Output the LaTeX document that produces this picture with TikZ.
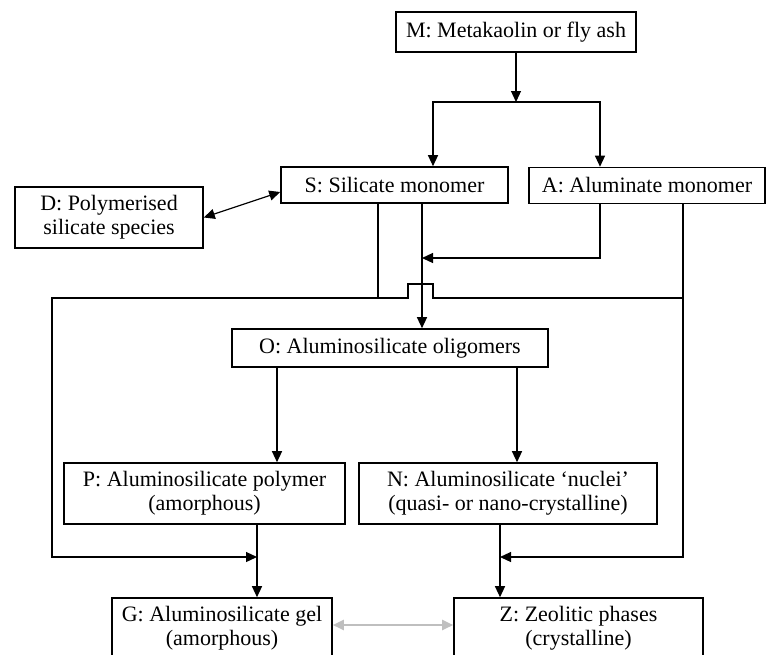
\documentclass[tikz,border=0pt]{standalone}
\usepackage{fontspec}
\setmainfont{Liberation Serif}
\usetikzlibrary{arrows.meta}

\begin{document}
\begin{tikzpicture}[x=1pt, y=-1pt, line width=1.2pt,
    >={Triangle[length=11pt,width=10pt]},
    stage/.style={draw, rectangle, line width=1.6pt, inner sep=0pt, align=center,
      font=\fontsize{22}{24}\selectfont}]
    \useasboundingbox (0,0) rectangle (767,654);
    \clip (0,0) rectangle (767,654);
    % Nodes
    \node (M) [stage, minimum width=240pt, minimum height=40pt] at (516,32) {M: Metakaolin or fly ash};
    \node (S) [stage, minimum width=227pt, minimum height=36pt] at (394.5,185) {S: Silicate monomer};
    \node (A) [stage, minimum width=236pt, minimum height=36pt] at (647,185.5) {A: Aluminate monomer};
    \node (D) [stage, minimum width=188pt, minimum height=61pt] at (109,217.5) {D: Polymerised\\silicate species};
    \node (O) [stage, minimum width=316pt, minimum height=38pt] at (390,348) {O: Aluminosilicate oligomers};
    \node (P) [stage, minimum width=281pt, minimum height=61pt] at (204.5,493.5) {P: Aluminosilicate polymer\\(amorphous)};
    \node (N) [stage, minimum width=298pt, minimum height=61pt] at (508,493.5) {N: Aluminosilicate ‘nuclei’\\(quasi- or nano-crystalline)};
    \node (G) [stage, minimum width=220pt, minimum height=61pt] at (222,628.5) {G: Aluminosilicate gel\\(amorphous)};
    \node (Z) [stage, minimum width=249pt, minimum height=61pt] at (578.5,628.5) {Z: Zeolitic phases\\(crystalline)};

    % Bends and joins
    \coordinate (split) at (516,102);
    \coordinate (merge) at (422,258);
    \coordinate (loopL) at (52,298);
    \coordinate (loopR) at (683,298);
    \coordinate (gJoin) at (257,557);
    \coordinate (zJoin) at (500,557);
    \coordinate (sOut) at ([xshift=-16.5pt]S.south);
    \coordinate (aOut) at ([xshift=36pt]A.south);
    \coordinate (pIn) at ([xshift=-113pt]O.south);
    \coordinate (nIn) at ([xshift=127pt]O.south);

    % Edges
    \draw[->] (M) -- (split);
    \draw[->] (split) -| ([xshift=38.5pt]S.north);
    \draw[->] (split) -| ([xshift=-47pt]A.north);
    \draw[<->] (D.east) -- ([yshift=-7pt]S.west);
    \draw[->] (S.south -| merge) -- (O.north -| merge);
    \draw[->] ([xshift=-47pt]A.south) |- (merge);
    \draw[->] (sOut) |- (loopL) |- (gJoin);
    \draw (sOut |- loopL) -- ++(30,0) -- ++(0,-14) -- ++(25,0) -- ++(0,14) -- (loopR);
    \draw[->] (aOut) |- (zJoin);
    \draw[->] (pIn) -- (pIn |- P.north);
    \draw[->] (nIn) -- (nIn |- N.north);
    \draw[->] (P.south -| gJoin) -- (G.north -| gJoin);
    \draw[->] (N.south -| zJoin) -- (Z.north -| zJoin);
    \draw[<->, gray!50, line width=2pt] ([yshift=3.5pt]G.east) -- ([yshift=3.5pt]Z.west);
\end{tikzpicture}
\end{document}
